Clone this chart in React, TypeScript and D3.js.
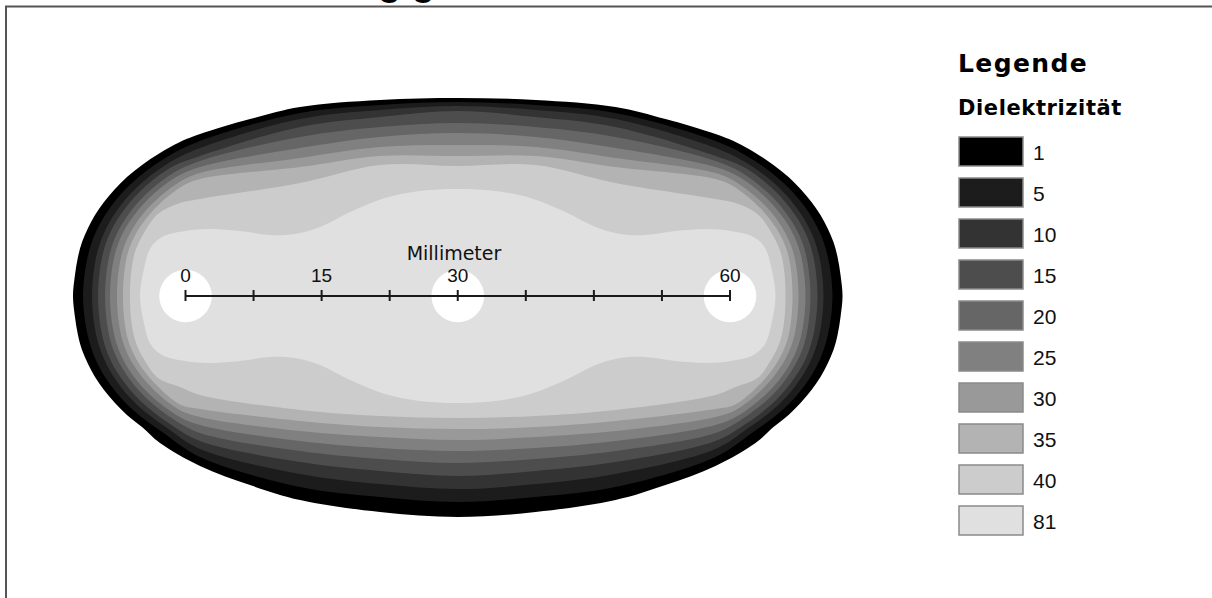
import React from 'react';
import * as d3 from 'd3';

const W = 1212;
const H = 598;

// Legend classes (Dielektrizität)
const categories = ['1', '5', '10', '15', '20', '25', '30', '35', '40', '81'];
const colors = ['#000000', '#1c1c1c', '#333333', '#4d4d4d', '#666666', '#808080', '#999999', '#b3b3b3', '#cccccc', '#e0e0e0'];

// Outer boundary of each class region: [x mm, distance from electrode axis mm], from the left tip to the middle
const r1Top = [[-12.4, 0], [-12.18, 2.31], [-11.85, 4.3], [-11.4, 5.95], [-10.74, 7.49], [-9.97, 8.93], [-8.98, 10.36], [-7.77, 11.79], [-6.45, 13.11], [-4.79, 14.44], [-2.81, 15.76], [-0.61, 16.97], [1.6, 17.85], [7.11, 19.5], [12.62, 20.83], [21.43, 21.6], [30, 21.82]];
const r1Bot = [[-12.4, 0], [-12.18, 2.31], [-11.85, 4.3], [-11.4, 5.95], [-10.74, 7.49], [-9.97, 8.93], [-8.98, 10.36], [-7.77, 11.79], [-6.45, 13.11], [-4.79, 14.44], [-2.81, 16.2], [1.6, 18.73], [7.11, 20.83], [12.62, 22.48], [21.43, 23.8], [30, 24.35]];
const r5Top = [[-11.29, 0], [-10.83, 4.08], [-9.87, 7.07], [-8.26, 9.81], [-5.88, 12.48], [-2.41, 15.1], [1.6, 17.08], [12.62, 20.17], [21.43, 21.05], [30, 21.38]];
const r5Bot = [[-11.29, 0], [-10.83, 4.08], [-9.87, 7.07], [-8.26, 9.81], [-5.88, 12.48], [-2.41, 15.1], [1.6, 17.74], [12.62, 21.05], [21.43, 22.15], [30, 22.7]];
const r10Top = [[-10.3, 0], [-9.93, 3.89], [-9.09, 6.7], [-7.64, 9.32], [-5.41, 11.94], [-2.07, 14.53], [1.6, 16.31], [12.62, 19.5], [21.43, 20.5], [30, 20.94]];
const r10Bot = [[-10.3, 0], [-9.93, 3.89], [-9.09, 6.7], [-7.64, 9.32], [-5.41, 11.94], [-2.07, 14.53], [1.6, 16.86], [12.62, 19.61], [21.43, 20.72], [30, 21.27]];
const r15Top = [[-9.64, 0], [-9.3, 3.76], [-8.54, 6.44], [-7.16, 8.96], [-5.02, 11.52], [-1.79, 14.06], [1.6, 15.43], [12.62, 18.62], [21.43, 19.72], [30, 20.39]];
const r15Bot = [[-9.64, 0], [-9.3, 3.76], [-8.54, 6.44], [-7.16, 8.96], [-5.02, 11.52], [-1.79, 14.06], [1.6, 15.98], [12.62, 18.29], [21.43, 19.28], [30, 19.83]];
const r20Top = [[-8.87, 0], [-8.56, 3.6], [-7.89, 6.12], [-6.6, 8.53], [-4.57, 11.01], [-1.44, 13.5], [1.6, 14.88], [12.62, 17.52], [21.43, 18.62], [30, 19.06]];
const r20Bot = [[-8.87, 0], [-8.56, 3.6], [-7.89, 6.12], [-6.6, 8.53], [-4.57, 11.01], [-1.44, 13.5], [1.6, 15.1], [12.62, 17.08], [21.43, 17.96], [30, 18.4]];
const r25Top = [[-8.32, 0], [-8.02, 3.48], [-7.38, 5.87], [-6.17, 8.2], [-4.21, 10.59], [-1.16, 13.02], [1.6, 14.21], [12.62, 16.31], [21.43, 17.52], [30, 17.96]];
const r25Bot = [[-8.32, 0], [-8.02, 3.48], [-7.38, 5.87], [-6.17, 8.2], [-4.21, 10.59], [-1.16, 13.02], [1.6, 14.21], [12.62, 15.98], [21.43, 16.75], [30, 17.08]];
const r30Top = [[-7.55, 0], [-7.29, 3.33], [-6.73, 5.56], [-5.61, 7.77], [-3.75, 10.08], [-0.82, 12.45], [1.6, 13.55], [12.62, 15.21], [21.43, 16.42], [30, 16.64]];
const r30Bot = [[-7.55, 0], [-7.29, 3.33], [-6.73, 5.56], [-5.61, 7.77], [-3.75, 10.08], [-0.82, 12.45], [1.6, 13.33], [12.62, 14.88], [21.43, 15.54], [30, 15.87]];
const r35Top = [[-6.89, 0], [-6.67, 3.2], [-6.18, 5.29], [-5.14, 7.4], [-3.37, 9.65], [-0.53, 11.99], [1.6, 12.89], [12.62, 14.21], [21.43, 15.43], [30, 15.43]];
const r35Bot = [[-6.89, 0], [-6.67, 3.2], [-6.18, 5.29], [-5.14, 7.4], [-3.37, 9.65], [-0.53, 11.99], [1.6, 12.45], [12.62, 13.77], [21.43, 14.44], [30, 14.66]];
const r40Top = [[-6.12, 0], [-5.94, 3.04], [-5.52, 4.98], [-4.57, 6.98], [-3.03, 9.04], [-0.61, 10.25], [1.6, 10.69], [12.62, 12.45], [21.43, 14.44], [30, 14.33]];
const r40Bot = [[-6.12, 0], [-5.94, 3.04], [-5.52, 4.98], [-4.57, 6.98], [-3.03, 9.04], [-0.61, 10.03], [1.6, 10.91], [12.62, 12.56], [21.43, 13.22], [30, 13.44]];
const r81 = [[-5.01, 0], [-4.63, 2.75], [-3.86, 5.29], [-2.59, 6.5], [-0.06, 7.16], [2.7, 7.38], [6.01, 7.16], [9.31, 6.72], [12.07, 6.83], [14.82, 7.6], [18.13, 9.26], [21.98, 10.8], [25.84, 11.57], [30, 11.79]];

const electrodes = [0, 30, 60];
const electrodeRadius = 2.9;
const scaleTicks = [0, 7.5, 15, 22.5, 30, 37.5, 45, 52.5, 60];
const scaleLabels = [0, 15, 30, 60];
const scaleTitle = 'Millimeter';

const x = d3.scaleLinear().domain([0, 60]).range([185.5, 730]);
const y = d3.scaleLinear().domain([0, 10]).range([296, 296 + 90.75]);
const mmPx = x(1) - x(0);

function loop(top: number[][], bottom?: number[][]): [number, number][] {
  const bot = bottom || top;
  const pts: [number, number][] = [];
  const n = top.length - 1;
  const m = bot.length - 1;
  for (let i = 0; i <= n; i++) pts.push([top[i][0], -top[i][1]]);
  for (let i = n - 1; i >= 0; i--) pts.push([60 - top[i][0], -top[i][1]]);
  for (let i = 1; i <= m; i++) pts.push([60 - bot[i][0], bot[i][1]]);
  for (let i = m - 1; i >= 1; i--) pts.push([bot[i][0], bot[i][1]]);
  return pts;
}

const line = d3
  .line<[number, number]>()
  .x((d) => x(d[0]))
  .y((d) => y(d[1]))
  .curve(d3.curveCatmullRomClosed.alpha(0.5));

const regions = [
  loop(r1Top, r1Bot),
  loop(r5Top, r5Bot),
  loop(r10Top, r10Bot),
  loop(r15Top, r15Bot),
  loop(r20Top, r20Bot),
  loop(r25Top, r25Bot),
  loop(r30Top, r30Bot),
  loop(r35Top, r35Bot),
  loop(r40Top, r40Bot),
  loop(r81),
];

const legendX = 959;
const legendY0 = 137;
const legendStep = 41;

export default function App() {
  return (
    <svg
      width={W}
      height={H}
      style={{ position: 'absolute', left: 0, top: 0, background: '#ffffff' }}
      fontFamily="'Liberation Sans', Arial, sans-serif"
    >
      <rect x={0} y={0} width={W} height={H} fill="#ffffff" />
      <text x={378} y={-5} fontSize={38} fontWeight="bold" fill="#000">gig</text>
      <rect x={6} y={6.5} width={W + 20} height={H + 20} fill="none" stroke="#555" strokeWidth={2} />

      {regions.map((pts, i) => (
        <path key={categories[i]} d={line(pts) || ''} fill={colors[i]} stroke="none" />
      ))}
      {electrodes.map((e) => (
        <circle key={e} cx={x(e)} cy={y(0)} r={electrodeRadius * mmPx} fill="#ffffff" />
      ))}

      <g stroke="#1a1a1a" strokeWidth={2}>
        <line x1={x(0)} x2={x(60)} y1={y(0)} y2={y(0)} />
        {scaleTicks.map((t) => (
          <line key={t} x1={x(t)} x2={x(t)} y1={y(0) - 6} y2={y(0) + 5} />
        ))}
      </g>
      {scaleLabels.map((t) => (
        <text key={t} x={x(t)} y={282} fontSize={19} textAnchor="middle" fill="#111">{t}</text>
      ))}
      <text x={454} y={260} fontSize={19} textAnchor="middle" fill="#111" fontFamily="'DejaVu Sans', sans-serif">{scaleTitle}</text>

      <text x={958} y={72} fontSize={25} fontWeight="bold" fill="#000" fontFamily="'DejaVu Sans', sans-serif" letterSpacing={1.4}>Legende</text>
      <text x={958} y={115} fontSize={21} fontWeight="bold" fill="#000" fontFamily="'DejaVu Sans', sans-serif" letterSpacing={0.6}>Dielektrizität</text>
      {categories.map((c, i) => (
        <g key={c}>
          <rect x={legendX} y={legendY0 + i * legendStep} width={64} height={29} fill={colors[i]} stroke="#8a8a8a" strokeWidth={1.5} />
          <text x={1033} y={legendY0 + i * legendStep + 23} fontSize={21} fill="#111">{c}</text>
        </g>
      ))}
    </svg>
  );
}
